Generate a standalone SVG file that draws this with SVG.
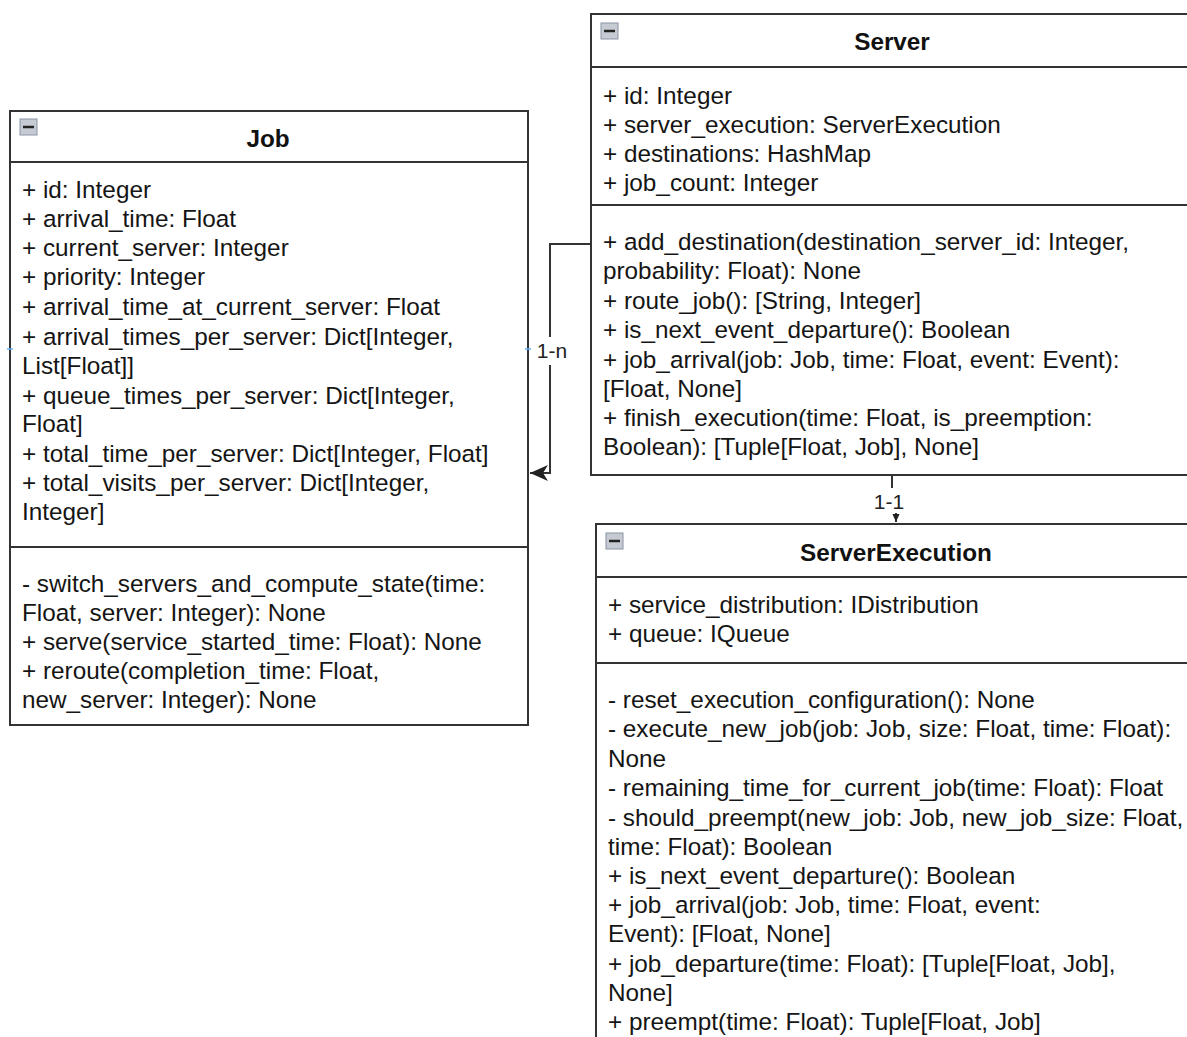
<svg xmlns="http://www.w3.org/2000/svg" width="1187" height="1037" viewBox="0 0 1187 1037">
  <style>
    .box { fill: #ffffff; stroke: #333333; stroke-width: 2; }
    .div { stroke: #333333; stroke-width: 2; }
    .t { font-family: "Liberation Sans", Arial, sans-serif; font-size: 24.3px; fill: #151515; }
    .h { font-family: "Liberation Sans", Arial, sans-serif; font-size: 24.3px; font-weight: bold; fill: #111111; text-anchor: middle; }
    .lbl { font-family: "Liberation Sans", Arial, sans-serif; font-size: 21px; fill: #222222; text-anchor: middle; }
    .edge { fill: none; stroke: #333333; stroke-width: 2; }
    .pt { stroke: #66b3ff; stroke-width: 1.5; }
  </style>
  <defs>
    <!-- collapse toggle shown in each class header -->
    <g id="collapse">
      <rect x="0" y="0" width="17" height="16" fill="#c5cad3" stroke="#8a93a3" stroke-width="1"/>
      <line x1="3" y1="8" x2="14" y2="8" stroke="#222222" stroke-width="2.5"/>
    </g>
    <marker id="open" viewBox="0 0 20 20" refX="18" refY="10" markerWidth="20" markerHeight="20" markerUnits="userSpaceOnUse" orient="auto">
      <path d="M0,2 L18,10 L0,18 L5,10 Z" fill="#222222"/>
    </marker>
    <marker id="small" viewBox="0 0 10 10" refX="9" refY="5" markerWidth="9" markerHeight="9" markerUnits="userSpaceOnUse" orient="auto">
      <path d="M0,1 L9,5 L0,9 Z" fill="#222222"/>
    </marker>
  </defs>

  <!-- Job class -->
  <g id="job">
    <rect class="box" x="10" y="111" width="518" height="614"/>
    <line class="div" x1="10" y1="162" x2="528" y2="162"/>
    <line class="div" x1="10" y1="547" x2="528" y2="547"/>
    <use href="#collapse" x="20" y="119"/>
    <text class="h" x="268" y="147">Job</text>
    <text class="t" x="22" y="198">+ id: Integer</text>
    <text class="t" x="22" y="227">+ arrival_time: Float</text>
    <text class="t" x="22" y="256">+ current_server: Integer</text>
    <text class="t" x="22" y="285">+ priority: Integer</text>
    <text class="t" x="22" y="315">+ arrival_time_at_current_server: Float</text>
    <text class="t" x="22" y="345">+ arrival_times_per_server: Dict[Integer,</text>
    <text class="t" x="22" y="374">List[Float]]</text>
    <text class="t" x="22" y="404">+ queue_times_per_server: Dict[Integer,</text>
    <text class="t" x="22" y="432">Float]</text>
    <text class="t" x="22" y="462">+ total_time_per_server: Dict[Integer, Float]</text>
    <text class="t" x="22" y="491">+ total_visits_per_server: Dict[Integer,</text>
    <text class="t" x="22" y="520">Integer]</text>
    <text class="t" x="22" y="592">- switch_servers_and_compute_state(time:</text>
    <text class="t" x="22" y="621">Float, server: Integer): None</text>
    <text class="t" x="22" y="650">+ serve(service_started_time: Float): None</text>
    <text class="t" x="22" y="679">+ reroute(completion_time: Float,</text>
    <text class="t" x="22" y="708">new_server: Integer): None</text>
    <line class="pt" x1="7" y1="349" x2="13" y2="349"/>
    <line class="pt" x1="525" y1="349" x2="531" y2="349"/>
  </g>

  <!-- Server class -->
  <g id="server">
    <rect class="box" x="591" y="14" width="602" height="461"/>
    <line class="div" x1="591" y1="67" x2="1193" y2="67"/>
    <line class="div" x1="591" y1="205" x2="1193" y2="205"/>
    <use href="#collapse" x="601" y="23"/>
    <text class="h" x="892" y="50">Server</text>
    <text class="t" x="603" y="104">+ id: Integer</text>
    <text class="t" x="603" y="133">+ server_execution: ServerExecution</text>
    <text class="t" x="603" y="162">+ destinations: HashMap</text>
    <text class="t" x="603" y="191">+ job_count: Integer</text>
    <text class="t" x="603" y="250">+ add_destination(destination_server_id: Integer,</text>
    <text class="t" x="603" y="279">probability: Float): None</text>
    <text class="t" x="603" y="309">+ route_job(): [String, Integer]</text>
    <text class="t" x="603" y="338">+ is_next_event_departure(): Boolean</text>
    <text class="t" x="603" y="368">+ job_arrival(job: Job, time: Float, event: Event):</text>
    <text class="t" x="603" y="397">[Float, None]</text>
    <text class="t" x="603" y="426">+ finish_execution(time: Float, is_preemption:</text>
    <text class="t" x="603" y="455">Boolean): [Tuple[Float, Job], None]</text>
  </g>

  <!-- ServerExecution class -->
  <g id="server-execution">
    <rect class="box" x="596" y="524" width="600" height="540"/>
    <line class="div" x1="596" y1="577" x2="1196" y2="577"/>
    <line class="div" x1="596" y1="663" x2="1196" y2="663"/>
    <use href="#collapse" x="606" y="533"/>
    <text class="h" x="896" y="561">ServerExecution</text>
    <text class="t" x="608" y="613">+ service_distribution: IDistribution</text>
    <text class="t" x="608" y="642">+ queue: IQueue</text>
    <text class="t" x="608" y="708">- reset_execution_configuration(): None</text>
    <text class="t" x="608" y="737">- execute_new_job(job: Job, size: Float, time: Float):</text>
    <text class="t" x="608" y="767">None</text>
    <text class="t" x="608" y="796">- remaining_time_for_current_job(time: Float): Float</text>
    <text class="t" x="608" y="826">- should_preempt(new_job: Job, new_job_size: Float,</text>
    <text class="t" x="608" y="855">time: Float): Boolean</text>
    <text class="t" x="608" y="884">+ is_next_event_departure(): Boolean</text>
    <text class="t" x="608" y="913">+ job_arrival(job: Job, time: Float, event:</text>
    <text class="t" x="608" y="942">Event): [Float, None]</text>
    <text class="t" x="608" y="972">+ job_departure(time: Float): [Tuple[Float, Job],</text>
    <text class="t" x="608" y="1001">None]</text>
    <text class="t" x="608" y="1030">+ preempt(time: Float): Tuple[Float, Job]</text>
  </g>

  <!-- Associations -->
  <g id="connectors">
    <path class="edge" d="M591,244 H550 V337"/>
    <path class="edge" d="M550,365 V473 H530" marker-end="url(#open)"/>
    <text class="lbl" x="552" y="358">1-n</text>
    <path class="edge" d="M892,475 V488"/>
    <path class="edge" d="M896,513 V522" marker-end="url(#small)"/>
    <text class="lbl" x="889" y="509">1-1</text>
  </g>
</svg>
